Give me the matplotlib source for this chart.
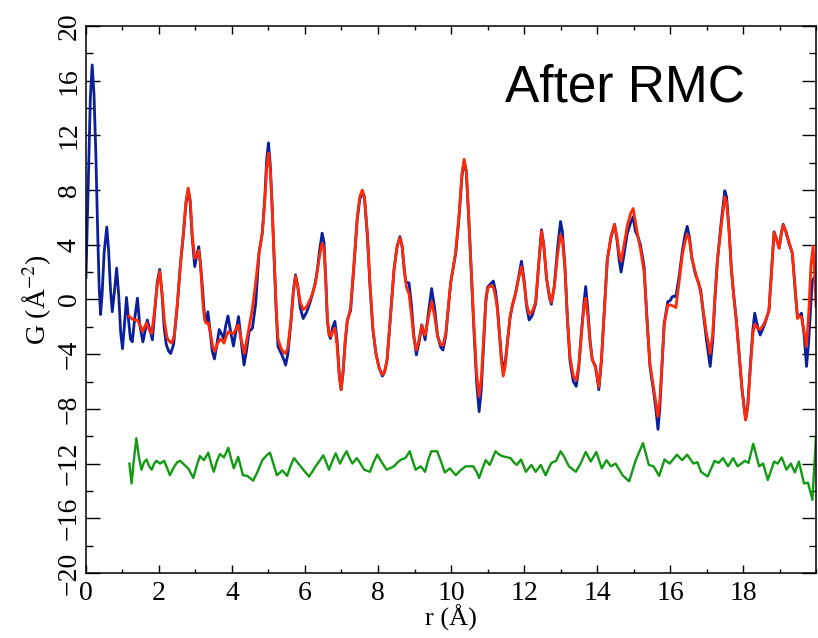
import matplotlib
matplotlib.use("Agg")
import matplotlib.pyplot as plt
from matplotlib.ticker import MultipleLocator

# experimental G(r) (blue)
r_exp = [0.00, 0.04, 0.08, 0.12, 0.17, 0.22, 0.27, 0.32, 0.36, 0.40, 0.44, 0.50, 0.57, 0.62, 0.67,
         0.72, 0.78, 0.84, 0.90, 0.95, 1.00, 1.05, 1.11, 1.17, 1.22, 1.27, 1.33, 1.41, 1.47, 1.56,
         1.62, 1.68, 1.75, 1.82, 1.88, 1.95, 2.02, 2.08, 2.14, 2.20, 2.27, 2.32, 2.40, 2.50, 2.59,
         2.66, 2.74, 2.80, 2.85, 2.91, 2.98, 3.04, 3.09, 3.14, 3.19, 3.25, 3.29, 3.34, 3.40, 3.46,
         3.52, 3.58, 3.65, 3.71, 3.77, 3.83, 3.89, 3.96, 4.04, 4.11, 4.18, 4.25, 4.33, 4.40, 4.47,
         4.56, 4.65, 4.74, 4.83, 4.90, 4.95, 5.00, 5.05, 5.10, 5.15, 5.21, 5.26, 5.35, 5.42, 5.47,
         5.53, 5.62, 5.68, 5.74, 5.80, 5.87, 5.95, 6.05, 6.14, 6.20, 6.28, 6.34, 6.40, 6.47, 6.52,
         6.57, 6.61, 6.66, 6.70, 6.76, 6.82, 6.88, 6.94, 6.99, 7.04, 7.10, 7.16, 7.25, 7.34, 7.43,
         7.50, 7.57, 7.63, 7.71, 7.78, 7.86, 7.94, 8.03, 8.12, 8.18, 8.25, 8.34, 8.44, 8.52, 8.60,
         8.66, 8.72, 8.76, 8.85, 8.92, 8.98, 9.05, 9.12, 9.20, 9.29, 9.38, 9.47, 9.55, 9.63, 9.72,
         9.78, 9.86, 9.92, 9.99, 10.13, 10.22, 10.30, 10.36, 10.42, 10.48, 10.54, 10.62, 10.70,
         10.77, 10.83, 10.90, 10.95, 11.00, 11.07, 11.16, 11.22, 11.27, 11.33, 11.38, 11.43, 11.49,
         11.55, 11.62, 11.68, 11.77, 11.85, 11.93, 12.00, 12.07, 12.14, 12.22, 12.32, 12.40, 12.48,
         12.54, 12.62, 12.70, 12.75, 12.83, 12.92, 13.00, 13.05, 13.12, 13.19, 13.26, 13.35, 13.43,
         13.50, 13.57, 13.64, 13.69, 13.75, 13.81, 13.87, 13.96, 14.05, 14.12, 14.20, 14.28, 14.38,
         14.48, 14.55, 14.61, 14.66, 14.74, 14.83, 14.92, 14.99, 15.05, 15.12, 15.19, 15.29, 15.37,
         15.45, 15.56, 15.62, 15.67, 15.72, 15.78, 15.84, 15.94, 16.00, 16.06, 16.11, 16.16, 16.25,
         16.34, 16.41, 16.47, 16.53, 16.60, 16.70, 16.77, 16.84, 16.92, 17.00, 17.10, 17.17, 17.23,
         17.30, 17.40, 17.50, 17.55, 17.62, 17.68, 17.75, 17.82, 17.89, 17.97, 18.07, 18.13, 18.21,
         18.27, 18.32, 18.40, 18.47, 18.55, 18.62, 18.71, 18.78, 18.85, 18.93, 18.99, 19.05, 19.10,
         19.17, 19.26, 19.35, 19.42, 19.49, 19.55, 19.60, 19.67, 19.74, 19.80, 19.86, 19.90, 19.95,
         20.00]
g_exp = [1.6, 6.0, 10.7, 14.8, 17.15, 15.0, 10.7, 5.0, 1.0, -1.1, 0.3, 3.5, 5.3, 3.6, 0.8,
         -0.9, 0.6, 2.3, 0.2, -2.4, -3.6, -2.0, 0.15, -1.6, -2.9, -3.1, -1.5, 0.1, -1.8, -3.1,
         -2.3, -1.5, -2.2, -2.95, -1.0, 1.2, 2.2, 0.5, -2.0, -3.3, -3.8, -3.95, -3.3, -0.5, 2.65,
         4.5, 7.0, 8.0, 7.2, 4.5, 2.4, 3.3, 3.86, 2.5, 0.9, -1.3, -1.7, -0.9, -2.3, -3.8,
         -4.35, -3.4, -2.2, -2.5, -2.85, -1.9, -1.2, -2.3, -3.4, -2.3, -1.25, -3.0, -4.8, -3.7, -2.35,
         -2.1, -0.3, 3.4, 4.85, 7.5, 10.2, 11.45, 9.8, 6.8, 3.4, -0.8, -3.45, -3.95, -4.4, -4.8,
         -4.0, -1.5, 0.6, 1.8, 1.0, -0.6, -1.4, -0.9, -0.2, 0.35, 1.2, 2.2, 3.6, 4.85, 4.2,
         1.5, -1.5, -2.6, -2.85, -2.0, -1.6, -3.0, -5.5, -6.6, -5.4, -3.2, -1.5, -0.8, 2.4, 5.8,
         7.3, 7.9, 7.4, 4.6, 1.0, -2.2, -3.9, -5.0, -5.6, -5.3, -4.4, -1.3, 2.2, 3.8, 4.6,
         3.9, 2.2, 1.3, 1.2, -0.5, -2.6, -4.05, -3.2, -1.85, -2.95, -1.0, 0.8, -0.6, -2.6, -3.5,
         -3.7, -2.6, -0.8, 1.2, 3.4, 6.0, 9.0, 10.1, 9.3, 6.2, 2.9, -1.8, -6.0,
         -8.2, -6.6, -3.0, -0.3, 0.9, 1.1, 1.35, 0.6, -0.5, -2.5, -4.2, -5.15, -4.5,
         -3.0, -1.3, -0.5, 0.45, 1.6, 2.8, 1.5, -0.5, -1.5, -1.2, -0.3, 2.5, 5.1,
         4.0, 1.5, 0.1, -0.35, 1.0, 3.8, 5.7, 5.0, 2.5, -1.5, -4.5, -6.0, -6.35,
         -5.0, -2.5, -0.3, 0.95, -0.8, -3.0, -4.4, -4.9, -6.6, -4.5, -0.8, 2.9, 4.5,
         5.5, 4.3, 2.8, 2.0, 3.3, 4.85, 5.6, 6.05, 5.0, 4.6, 4.0, 2.4, -1.5,
         -4.9, -6.9, -8.2, -9.5, -8.0, -4.8, -1.75, -0.15, -0.1, 0.2, 0.25, 0.2, 1.7,
         3.6, 4.7, 5.35, 4.6, 3.0, 1.8, 1.3, 0.7, -1.2, -3.0, -4.9, -3.0, 0.0,
         2.9, 5.6, 7.95, 7.5, 5.0, 2.2, 0.2, -1.6, -3.9, -6.5, -8.8, -7.8, -4.4,
         -2.2, -1.0, -2.0, -2.6, -2.1, -1.6, -0.8, 2.0, 4.95, 4.3, 3.75, 4.8, 5.5,
         5.0, 4.1, 3.4, 1.0, -1.25, -1.2, -1.0, -2.5, -4.9, -3.0, -0.2, 1.4, 1.6,
         1.3]

# RMC fit (red)
r_fit = [1.18, 1.25, 1.33, 1.41, 1.50, 1.55, 1.61, 1.66, 1.73, 1.80, 1.87, 1.95, 2.02, 2.08, 2.15,
         2.22, 2.30, 2.35, 2.42, 2.50, 2.59, 2.66, 2.74, 2.80, 2.86, 2.91, 2.98, 3.04, 3.09, 3.14,
         3.20, 3.25, 3.30, 3.35, 3.42, 3.47, 3.53, 3.59, 3.67, 3.73, 3.78, 3.84, 3.90, 3.97, 4.04,
         4.10, 4.17, 4.26, 4.34, 4.41, 4.49, 4.55, 4.63, 4.74, 4.83, 4.90, 4.95, 5.00, 5.05, 5.10,
         5.15, 5.21, 5.26, 5.35, 5.42, 5.47, 5.53, 5.62, 5.68, 5.74, 5.80, 5.87, 5.95, 6.05, 6.14,
         6.20, 6.28, 6.34, 6.40, 6.47, 6.52, 6.57, 6.62, 6.67, 6.71, 6.77, 6.82, 6.88, 6.94, 6.99,
         7.04, 7.10, 7.16, 7.25, 7.34, 7.43, 7.50, 7.57, 7.63, 7.71, 7.78, 7.86, 7.94, 8.03, 8.12,
         8.18, 8.25, 8.34, 8.44, 8.52, 8.60, 8.66, 8.72, 8.78, 8.85, 8.92, 8.98, 9.05, 9.12, 9.20,
         9.29, 9.38, 9.47, 9.55, 9.63, 9.72, 9.78, 9.86, 9.92, 9.99, 10.13, 10.22, 10.30, 10.36,
         10.42, 10.48, 10.54, 10.62, 10.70, 10.77, 10.83, 10.90, 10.96, 11.02, 11.09, 11.16, 11.22,
         11.27, 11.33, 11.38, 11.43, 11.49, 11.55, 11.62, 11.68, 11.77, 11.85, 11.93, 12.00, 12.07,
         12.14, 12.22, 12.32, 12.40, 12.48, 12.54, 12.62, 12.70, 12.75, 12.83, 12.92, 13.00, 13.05,
         13.12, 13.19, 13.26, 13.35, 13.43, 13.50, 13.57, 13.64, 13.69, 13.75, 13.81, 13.87, 13.96,
         14.05, 14.12, 14.20, 14.28, 14.38, 14.48, 14.55, 14.61, 14.66, 14.74, 14.83, 14.92, 14.99,
         15.05, 15.12, 15.19, 15.29, 15.37, 15.45, 15.56, 15.62, 15.67, 15.72, 15.78, 15.84, 15.94,
         16.00, 16.06, 16.11, 16.16, 16.25, 16.34, 16.41, 16.47, 16.53, 16.60, 16.70, 16.77, 16.84,
         16.92, 17.00, 17.10, 17.17, 17.23, 17.30, 17.40, 17.50, 17.55, 17.62, 17.68, 17.75, 17.82,
         17.89, 17.97, 18.07, 18.13, 18.21, 18.27, 18.32, 18.40, 18.47, 18.55, 18.62, 18.71, 18.78,
         18.85, 18.93, 18.99, 19.05, 19.10, 19.17, 19.26, 19.35, 19.42, 19.49, 19.55, 19.60, 19.67,
         19.74, 19.80, 19.86, 19.92, 19.96, 20.00]
g_fit = [-1.2, -1.4, -1.5, -1.5, -2.0, -2.35, -2.0, -1.7, -2.2, -2.5, -1.0, 1.0, 2.05, 0.6, -1.6,
         -2.8, -3.1, -3.2, -2.6, -0.4, 2.6, 4.6, 7.2, 8.15, 7.2, 4.8, 3.0, 3.2, 3.6, 2.5,
         -0.2, -1.5, -1.75, -1.7, -2.6, -3.4, -3.8, -3.3, -2.9, -3.0, -3.2, -2.7, -2.35, -2.45, -2.5,
         -2.2, -1.85, -3.0, -3.95, -2.9, -1.7, -0.8, 0.8, 3.4, 4.85, 7.2, 9.6, 10.7, 9.5, 6.7,
         3.4, -0.6, -2.9, -3.6, -3.9, -3.95, -3.5, -1.4, 0.5, 1.7, 1.0, -0.2, -0.75, -0.5, 0.0,
         0.4, 1.1, 2.1, 3.2, 4.1, 3.7, 1.2, -1.6, -2.6, -2.7, -2.3, -2.1, -3.4, -5.6, -6.6,
         -5.4, -3.0, -1.6, -0.6, 2.6, 6.0, 7.5, 8.0, 7.5, 4.8, 1.2, -2.1, -3.9, -5.0, -5.5,
         -5.3, -4.4, -1.3, 2.2, 3.9, 4.5, 3.9, 2.1, 0.9, 0.4, -1.2, -2.8, -3.7, -3.0, -1.9,
         -2.6, -1.3, -0.15, -1.2, -2.7, -3.3, -3.35, -2.4, -0.7, 1.2, 3.5, 6.2, 9.2, 10.25,
         9.4, 6.3, 2.9, -1.5, -5.4, -7.1, -5.8, -2.5, 0.2, 0.9, 1.0, 0.9, 0.2,
         -0.7, -2.7, -4.5, -5.6, -4.8, -3.0, -1.2, -0.4, 0.5, 1.5, 2.4, 1.3, -0.3,
         -1.05, -0.9, -0.2, 2.5, 5.0, 4.0, 1.5, 0.2, -0.2, 0.9, 3.3, 4.7, 4.4,
         2.3, -1.4, -4.2, -5.6, -5.9, -4.8, -2.6, -0.6, 0.1, -1.3, -3.2, -4.4, -5.0,
         -6.4, -4.5, -0.9, 2.8, 4.6, 5.5, 4.5, 3.3, 2.8, 4.0, 5.4, 6.3, 6.65,
         5.7, 4.6, 3.7, 2.0, -1.5, -4.7, -6.6, -7.6, -8.55, -7.4, -4.6, -1.9, -0.4,
         -0.4, -0.45, -0.5, -0.6, 1.3, 3.3, 4.2, 4.8, 4.4, 3.0, 1.9, 1.3, 0.5,
         -1.0, -2.5, -3.95, -2.5, 0.2, 2.9, 5.3, 7.5, 7.1, 4.9, 2.2, 0.1, -1.7,
         -3.9, -6.5, -8.8, -7.8, -4.7, -2.5, -1.8, -2.1, -2.2, -1.9, -1.5, -0.8, 2.0,
         4.9, 4.3, 3.75, 4.9, 5.45, 5.0, 4.2, 3.4, 1.0, -1.4, -1.2, -1.3, -2.3,
         -3.45, -1.0, 2.5, 3.9, 2.0, -0.5]

# difference curve, shifted by -12 (green)
r_diff = [1.19, 1.25, 1.31, 1.38, 1.45, 1.52, 1.59, 1.66, 1.73, 1.80, 1.87, 1.93, 2.03, 2.14, 2.22,
          2.30, 2.40, 2.50, 2.58, 2.70, 2.80, 2.94, 3.03, 3.12, 3.23, 3.35, 3.42, 3.50, 3.59, 3.67,
          3.78, 3.90, 3.97, 4.05, 4.17, 4.30, 4.42, 4.58, 4.70, 4.83, 4.95, 5.04, 5.12, 5.23, 5.38,
          5.51, 5.60, 5.70, 5.88, 6.00, 6.11, 6.20, 6.29, 6.40, 6.50, 6.58, 6.66, 6.75, 6.84, 6.96,
          7.05, 7.14, 7.22, 7.30, 7.42, 7.52, 7.62, 7.78, 7.88, 7.98, 8.10, 8.24, 8.44, 8.54, 8.64,
          8.75, 8.87, 8.95, 9.03, 9.17, 9.29, 9.38, 9.46, 9.62, 9.72, 9.83, 9.97, 10.13, 10.26,
          10.40, 10.61, 10.70, 10.77, 10.87, 10.95, 11.06, 11.22, 11.30, 11.40, 11.63, 11.72, 11.80,
          11.92, 12.05, 12.20, 12.32, 12.46, 12.59, 12.75, 12.88, 13.00, 13.10, 13.23, 13.42, 13.55,
          13.69, 13.83, 13.98, 14.13, 14.26, 14.38, 14.51, 14.70, 14.88, 15.06, 15.26, 15.42, 15.55,
          15.70, 15.85, 15.99, 16.19, 16.33, 16.47, 16.64, 16.75, 16.85, 17.03, 17.22, 17.33, 17.45,
          17.59, 17.73, 17.85, 18.05, 18.15, 18.28, 18.44, 18.55, 18.68, 18.85, 18.95, 19.06, 19.19,
          19.31, 19.42, 19.53, 19.67, 19.78, 19.90, 20.00]
g_diff = [-12.0, -13.45, -11.8, -10.15, -11.5, -12.45, -11.9, -11.7, -12.2, -12.45, -12.0, -11.8,
          -12.0, -11.8, -12.3, -12.85, -12.3, -11.9, -11.8, -12.1, -12.35, -13.05, -12.2, -11.45,
          -11.75, -11.2, -11.9, -12.6, -11.8, -11.3, -11.55, -10.85, -11.6, -12.35, -11.5, -12.85,
          -12.9, -13.25, -12.6, -11.75, -11.4, -11.2, -11.9, -12.85, -12.5, -12.9, -12.2, -11.6,
          -12.2, -12.6, -12.95, -12.6, -12.2, -11.8, -11.4, -11.9, -12.45, -11.8, -11.25, -12.0,
          -11.5, -11.1, -11.6, -12.0, -11.6, -12.0, -12.45, -12.6, -11.9, -11.35, -11.9, -12.45,
          -12.2, -11.9, -11.7, -11.6, -11.1, -11.8, -12.45, -12.2, -12.6, -11.7, -11.1, -11.1,
          -11.8, -12.65, -12.35, -12.85, -12.5, -12.2, -12.2, -12.6, -13.05, -12.3, -11.75, -12.1,
          -11.1, -11.3, -11.45, -11.6, -11.9, -12.1, -11.7, -12.6, -12.1, -12.6, -12.1, -12.85,
          -11.95, -11.8, -11.1, -11.5, -12.2, -12.6, -12.0, -11.15, -11.85, -11.15, -12.35, -11.75,
          -12.2, -12.0, -12.85, -13.3, -11.75, -10.5, -12.1, -12.2, -12.9, -11.7, -12.0, -11.35,
          -11.75, -11.35, -12.0, -11.9, -12.6, -12.95, -11.8, -11.95, -11.6, -12.2, -11.6, -12.2,
          -11.8, -11.95, -10.55, -12.2, -12.0, -13.2, -11.85, -12.0, -11.55, -12.45, -12.0, -12.65,
          -11.85, -13.45, -13.4, -14.65, -10.0]

plt.rcParams['mathtext.fontset'] = 'stix'

fig = plt.figure(figsize=(8.18, 6.38), dpi=100)
ax = fig.add_axes([0.1051, 0.1019, 0.8925, 0.8574])

ax.plot(r_exp, g_exp, color='#0b1f9c', lw=2.0, solid_joinstyle='round')
ax.plot(r_fit, g_fit, color='#ff2a08', lw=2.0, solid_joinstyle='round')
ax.plot(r_diff, g_diff, color='#139a13', lw=1.7, solid_joinstyle='round')

ax.set_xlim(0, 20)
ax.set_ylim(-20, 20)
ax.xaxis.set_major_locator(MultipleLocator(2))
ax.xaxis.set_minor_locator(MultipleLocator(1))
ax.yaxis.set_major_locator(MultipleLocator(4))
ax.yaxis.set_minor_locator(MultipleLocator(2))
ax.set_xticks(range(0, 20, 2))

serif = 'Liberation Serif'
ax.tick_params(which='both', direction='in', top=True, right=True, width=1.0, colors='black')
ax.tick_params(axis='x', which='major', length=6, pad=6)
ax.tick_params(axis='x', which='minor', length=3)
ax.tick_params(axis='y', which='major', length=10, pad=3)
ax.tick_params(axis='y', which='minor', length=5)
for lab in ax.get_xticklabels():
    lab.set_fontfamily(serif)
    lab.set_fontsize(20)
for lab in ax.get_yticklabels():
    lab.set_fontfamily(serif)
    lab.set_fontsize(20)
    lab.set_rotation(90)
    lab.set_va('center')

for s in ax.spines.values():
    s.set_linewidth(1.1)

ax.set_xlabel('r (Å)', fontfamily=serif, fontsize=19, labelpad=-1)
ax.set_ylabel('G (Å$^{-2}$)', fontfamily=serif, fontsize=20, labelpad=3)

ax.text(14.77, 15.45, 'After RMC', fontfamily='Liberation Sans', fontsize=37,
        ha='center', va='center')

fig.savefig('out.png', dpi=100)
